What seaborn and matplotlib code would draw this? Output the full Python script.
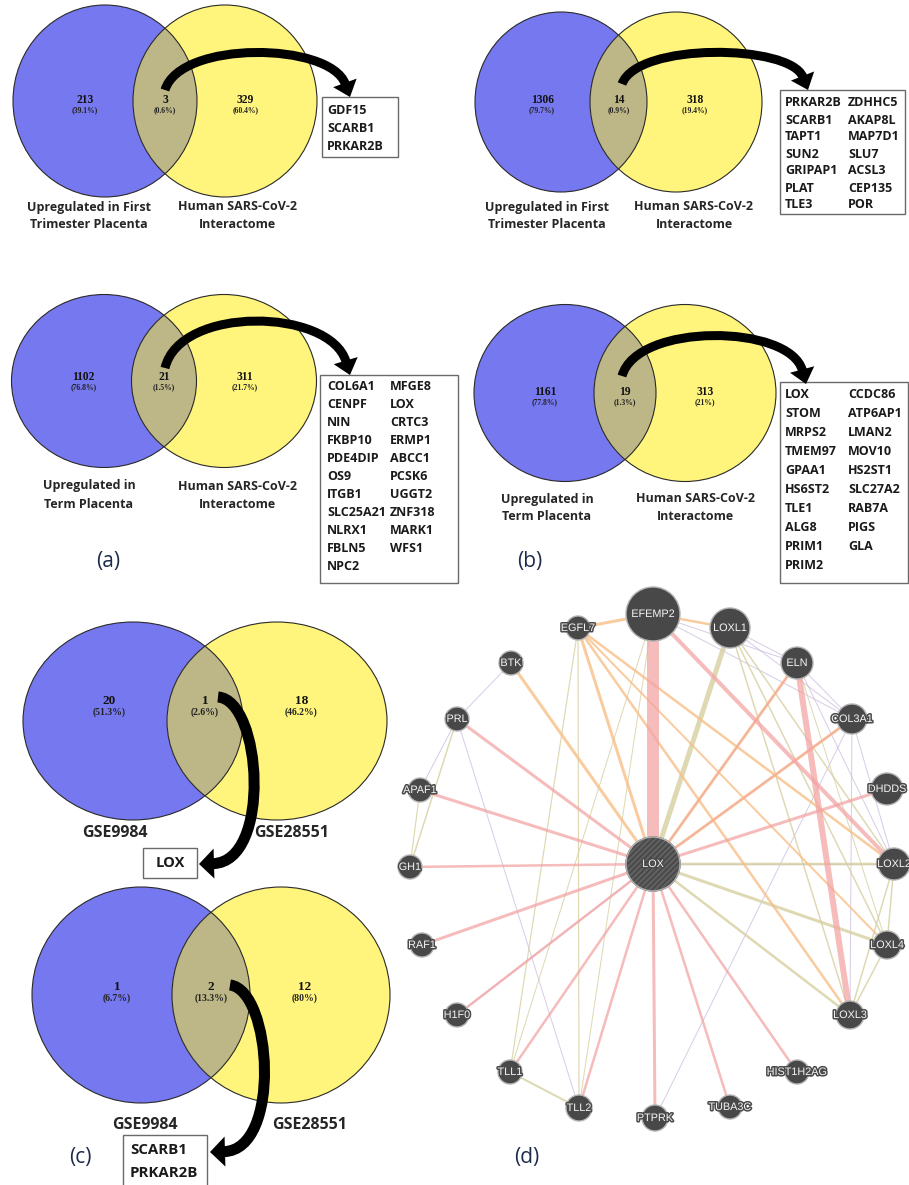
import numpy as np
import pandas as pd
import matplotlib
matplotlib.use("Agg")
import matplotlib.pyplot as plt
import matplotlib.patheffects as pe
from matplotlib.patches import Ellipse, Rectangle, Circle, PathPatch, Polygon
from matplotlib.path import Path
from matplotlib.collections import LineCollection
import seaborn as sns

# ---------------------------------------------------------------- data
# Venn counts: [left only, shared, right only] and matching percentages
first_tri_counts = [213, 3, 329]
first_tri_pcts = [39.1, 0.6, 60.4]
first_tri_genes = ["GDF15", "SCARB1", "PRKAR2B"]

term_counts = [1102, 21, 311]
term_pcts = [76.8, 1.5, 21.7]
term_genes = ["COL6A1", "CENPF", "NIN", "FKBP10", "PDE4DIP", "OS9", "ITGB1",
              "SLC25A21", "NLRX1", "FBLN5", "NPC2",
              "MFGE8", "LOX", "CRTC3", "ERMP1", "ABCC1", "PCSK6", "UGGT2",
              "ZNF318", "MARK1", "WFS1"]

first_tri_b_counts = [1306, 14, 318]
first_tri_b_pcts = [79.7, 0.9, 19.4]
first_tri_b_genes = ["PRKAR2B", "SCARB1", "TAPT1", "SUN2", "GRIPAP1", "PLAT", "TLE3",
                     "ZDHHC5", "AKAP8L", "MAP7D1", "SLU7", "ACSL3", "CEP135", "POR"]

term_b_counts = [1161, 19, 313]
term_b_pcts = [77.8, 1.3, 21]
term_b_genes = ["LOX", "STOM", "MRPS2", "TMEM97", "GPAA1", "HS6ST2", "TLE1", "ALG8",
                "PRIM1", "PRIM2",
                "CCDC86", "ATP6AP1", "LMAN2", "MOV10", "HS2ST1", "SLC27A2", "RAB7A",
                "PIGS", "GLA"]

gse_up_counts = [20, 1, 18]
gse_up_pcts = [51.3, 2.6, 46.2]
gse_up_genes = ["LOX"]

gse_down_counts = [1, 2, 12]
gse_down_pcts = [6.7, 13.3, 80]
gse_down_genes = ["SCARB1", "PRKAR2B"]

set_first = ["Upregulated in First", "Trimester Placenta"]
set_term = ["Upregulated in", "Term Placenta"]
set_interactome = ["Human SARS-CoV-2", "Interactome"]
set_gse = ["GSE9984", "GSE28551"]

# LOX interaction network
net_nodes = ["LOX", "EFEMP2", "LOXL1", "EGFL7", "BTK", "ELN", "PRL", "COL3A1",
             "APAF1", "DHDDS", "GH1", "LOXL2", "RAF1", "LOXL4", "H1F0", "LOXL3",
             "TLL1", "HIST1H2AG", "TLL2", "TUBA3C", "PTPRK"]
net_edges = [
    ("LOX", "EFEMP2", "physical", 12), ("LOX", "PRL", "physical", 3),
    ("LOX", "APAF1", "physical", 3), ("LOX", "GH1", "physical", 2.5),
    ("LOX", "RAF1", "physical", 3), ("LOX", "H1F0", "physical", 2.5),
    ("LOX", "TLL1", "physical", 2.5), ("LOX", "TLL2", "physical", 2.5),
    ("LOX", "PTPRK", "physical", 3), ("LOX", "TUBA3C", "physical", 2.5),
    ("LOX", "HIST1H2AG", "physical", 2.5), ("LOX", "DHDDS", "physical", 3),
    ("LOX", "ELN", "physical", 1.5), ("LOX", "COL3A1", "physical", 1.5),
    ("LOX", "COL3A1", "predicted", 3), ("LOX", "ELN", "predicted", 3),
    ("LOX", "EGFL7", "predicted", 3), ("LOX", "BTK", "predicted", 3),
    ("LOX", "LOXL1", "shared", 5), ("LOX", "LOXL2", "shared", 2.5),
    ("LOX", "LOXL3", "shared", 2.5), ("LOX", "LOXL4", "shared", 3),
    ("LOX", "LOXL2", "coexp", 1.2), ("LOX", "H1F0", "coexp", 1),
    ("EGFL7", "EFEMP2", "predicted", 3), ("EGFL7", "LOXL2", "predicted", 2.5),
    ("EGFL7", "LOXL3", "predicted", 2.5), ("EGFL7", "LOXL4", "predicted", 2),
    ("EGFL7", "TLL1", "shared", 1.2), ("EGFL7", "TLL2", "shared", 1.2),
    ("EFEMP2", "LOXL1", "predicted", 2.5), ("EFEMP2", "LOXL2", "physical", 4),
    ("EFEMP2", "ELN", "coexp", 1), ("EFEMP2", "COL3A1", "coexp", 1),
    ("EFEMP2", "TLL1", "shared", 1), ("EFEMP2", "TLL2", "shared", 1),
    ("LOXL1", "ELN", "coexp", 1), ("LOXL1", "COL3A1", "coexp", 1),
    ("LOXL1", "LOXL2", "shared", 1.5), ("LOXL1", "LOXL3", "shared", 1.5),
    ("LOXL1", "LOXL4", "shared", 1.5), ("ELN", "LOXL3", "physical", 6),
    ("ELN", "COL3A1", "coexp", 1), ("ELN", "LOXL2", "coexp", 1),
    ("ELN", "LOXL4", "shared", 1), ("COL3A1", "LOXL2", "coexp", 1),
    ("COL3A1", "LOXL3", "coexp", 1), ("COL3A1", "PTPRK", "coexp", 1),
    ("LOXL2", "LOXL4", "shared", 1.5), ("LOXL2", "LOXL3", "shared", 1.5),
    ("LOXL4", "LOXL3", "shared", 1.5), ("PRL", "GH1", "shared", 1.5),
    ("PRL", "APAF1", "coexp", 1), ("APAF1", "GH1", "shared", 1.2),
    ("PRL", "BTK", "coexp", 1), ("PRL", "TLL2", "coexp", 1),
    ("TLL1", "TLL2", "shared", 2),
]

# ---------------------------------------------------------------- style
sns.set_theme(style="white")
plt.rcParams["font.family"] = ["Open Sans", "DejaVu Sans"]
plt.rcParams["hatch.linewidth"] = 1.6

BLUE = "#7678ef"
YELLOW = "#fff57c"
OLIVE = "#bdb787"
OUTLINE = "#2a2a2a"
LABEL_NAVY = "#1d2b4c"
EDGE_COLORS = {"physical": "#f3a4a4", "predicted": "#f8bf86",
               "shared": "#d6cfa0", "coexp": "#c8b8dc"}
EDGE_ALPHA = {"physical": 0.75, "predicted": 0.8, "shared": 0.8, "coexp": 0.7}

fig = plt.figure(figsize=(9.09, 11.85), dpi=100)
ax = fig.add_axes([0, 0, 1, 1])
PT = 0.72  # points per pixel at 100 dpi


def fmt_pct(v):
    return f"({v:g}%)"


def draw_venn(cl, cr, cy, w, h, counts, pcts, cnt_fs, pct_fs, dy):
    left = Ellipse((cl, cy), w, h, fc=BLUE, ec="none", zorder=1)
    right = Ellipse((cr, cy), w, h, fc=YELLOW, ec="none", zorder=1)
    ax.add_patch(left)
    ax.add_patch(right)
    lens = Ellipse((cr, cy), w, h, fc=OLIVE, ec="none", zorder=1.1)
    ax.add_patch(lens)
    lens.set_clip_path(left)
    for c in (cl, cr):
        ax.add_patch(Ellipse((c, cy), w, h, fc="none", ec=OUTLINE, lw=0.8, zorder=1.2))
    xs = [cl - 0.11 * w, (cl + cr) / 2, cr + 0.11 * w]
    ty = cy - dy
    for x, n, p in zip(xs, counts, pcts):
        ax.text(x, ty, str(n), ha="center", va="center", fontsize=cnt_fs,
                family="Liberation Serif", weight="bold", color="#111", zorder=6)
        ax.text(x, ty + cnt_fs * 1.2, fmt_pct(p), ha="center", va="center",
                fontsize=pct_fs, family="Liberation Serif", weight="bold",
                color="#222", zorder=6)


def set_label(lines, x, y, fs=9, gap=18):
    for i, s in enumerate(lines):
        ax.text(x, y + i * gap, s, ha="center", va="center", fontsize=fs,
                weight="bold", color="#262626", zorder=6)


def gene_box(x0, y0, x1, y1, genes, ncols, tx, ty, gap, fs=9):
    ax.add_patch(Rectangle((x0, y0), x1 - x0, y1 - y0, fc="white", ec="#6a6a6a",
                           lw=1.0, zorder=4))
    per = int(np.ceil(len(genes) / ncols))
    for i, g in enumerate(genes):
        c, r = divmod(i, per)
        ax.text(tx[c], ty + r * gap, g, ha="left", va="center", fontsize=fs,
                weight="bold", color="#1a1a1a", zorder=6)


def bent_arrow(p0, c1, c2, p1, tail, head_w, head_l):
    p0, c1, c2, p1 = (np.asarray(v, float) for v in (p0, c1, c2, p1))
    d = p1 - c2
    d /= np.linalg.norm(d)
    base = p1 - d * head_l
    n = np.array([-d[1], d[0]])
    body = Path([p0, c1, c2, base + d * 1.0],
                [Path.MOVETO, Path.CURVE4, Path.CURVE4, Path.CURVE4])
    ax.add_patch(PathPatch(body, fc="none", ec="black", lw=tail * PT,
                           capstyle="butt", zorder=7))
    ax.add_patch(Polygon([base + n * head_w / 2, p1, base - n * head_w / 2],
                         closed=True, fc="black", ec="none", zorder=7))


# ---------------------------------------------------------------- panel (a)
draw_venn(105, 225, 101, 184, 192, first_tri_counts, first_tri_pcts, 8.3, 5.5, 1)
set_label(set_first, 89, 207)
set_label(set_interactome, 237, 207)
gene_box(322, 97, 398, 157, first_tri_genes, 1, [327], 110, 18)
bent_arrow((165, 90), (180, 40), (330, 42), (350, 97), 9, 25, 15)

draw_venn(104, 224, 381, 185, 173, term_counts, term_pcts, 8.3, 5.5, 4)
set_label(set_term, 89, 486)
set_label(set_interactome, 237, 486)
gene_box(320, 375, 458, 583, term_genes, 2, [327, 390], 387, 18)
bent_arrow((165, 368), (180, 305), (330, 308), (350, 375), 9, 25, 15)
ax.text(108, 562, "(a)", ha="center", va="center", fontsize=15, color=LABEL_NAVY)

# ---------------------------------------------------------------- panel (b)
draw_venn(561, 676, 102, 172, 180, first_tri_b_counts, first_tri_b_pcts, 8.3, 5.5, 2)
set_label(set_first, 547, 207)
set_label(set_interactome, 694, 207)
gene_box(780, 90, 905, 214, first_tri_b_genes, 2, [785, 848], 103, 17)
bent_arrow((622, 84), (637, 42), (790, 44), (808, 90), 9, 25, 15)

draw_venn(565, 685, 393, 182, 177, term_b_counts, term_b_pcts, 8.3, 5.5, 1)
set_label(set_term, 547, 499)
set_label(set_interactome, 695, 499)
gene_box(780, 382, 908, 583, term_b_genes, 2, [785, 848], 395, 18.9)
bent_arrow((622, 376), (637, 322), (790, 324), (806, 384), 9, 25, 15)
ax.text(530, 562, "(b)", ha="center", va="center", fontsize=15, color=LABEL_NAVY)

# ---------------------------------------------------------------- panel (c)
draw_venn(133, 277, 721, 220, 198, gse_up_counts, gse_up_pcts, 9.5, 7, 20)
set_label(set_gse[:1], 115, 833, fs=11.5)
set_label(set_gse[1:], 292, 833, fs=11.5)
ax.add_patch(Rectangle((143, 848), 54, 30, fc="white", ec="#6a6a6a", lw=1.0, zorder=4))
ax.text(170, 863, gse_up_genes[0], ha="center", va="center", fontsize=10.5,
        weight="bold", color="#1a1a1a", zorder=6)
bent_arrow((218, 697), (262, 700), (272, 862), (199, 864), 11, 30, 15)

draw_venn(141, 281, 995, 218, 216, gse_down_counts, gse_down_pcts, 9.5, 7, 8)
set_label(set_gse[:1], 145, 1125, fs=11.5)
set_label(set_gse[1:], 310, 1125, fs=11.5)
gene_box(123, 1135, 207, 1192, gse_down_genes, 1, [130], 1150, 23, fs=10.8)
bent_arrow((230, 985), (272, 990), (282, 1150), (210, 1152), 11, 30, 15)
ax.text(80, 1157, "(c)", ha="center", va="center", fontsize=15, color=LABEL_NAVY)

# ---------------------------------------------------------------- panel (d)
node_layout = {  # x, y, radius in pixels
    "LOX": (653, 864, 27), "EFEMP2": (653, 614, 27), "LOXL1": (730, 628, 20),
    "EGFL7": (578, 628, 12), "BTK": (511, 663, 12), "ELN": (797, 663, 16),
    "PRL": (457, 719, 12), "COL3A1": (852, 719, 15), "APAF1": (420, 790, 12),
    "DHDDS": (887, 789, 16), "GH1": (410, 867, 12), "LOXL2": (894, 864, 16),
    "RAF1": (422, 945, 12), "LOXL4": (887, 945, 14), "H1F0": (457, 1015, 12),
    "LOXL3": (850, 1015, 14), "TLL1": (510, 1072, 12), "HIST1H2AG": (797, 1072, 12),
    "TLL2": (579, 1108, 13), "TUBA3C": (730, 1107, 12), "PTPRK": (655, 1118, 13),
}

for kind in ["coexp", "shared", "predicted", "physical"]:
    segs, widths = [], []
    for a, b, k, wpx in net_edges:
        if k != kind:
            continue
        segs.append([node_layout[a][:2], node_layout[b][:2]])
        widths.append(wpx * PT)
    ax.add_collection(LineCollection(segs, linewidths=widths, colors=EDGE_COLORS[kind],
                                     alpha=EDGE_ALPHA[kind], capstyle="butt", zorder=2))

node_df = pd.DataFrame({
    "gene": net_nodes,
    "x": [node_layout[g][0] for g in net_nodes],
    "y": [node_layout[g][1] for g in net_nodes],
    "area": [(2 * node_layout[g][2] * PT) ** 2 for g in net_nodes],
})
sns.scatterplot(data=node_df, x="x", y="y", s=node_df["area"].to_numpy(),
                color="#484848", edgecolor="#b4b4b4", linewidth=1.0, ax=ax,
                legend=False, zorder=3)
qx, qy, qr = node_layout["LOX"]
ax.add_patch(Circle((qx, qy), qr, fc="#474747", ec="#616161", lw=1.0,
                    hatch="//////", zorder=4))
ax.add_patch(Circle((qx, qy), qr, fc="none", ec="#b4b4b4", lw=1.0, zorder=4.1))

outline = [pe.withStroke(linewidth=2.2, foreground="#4a4a4a")]
for g in net_nodes:
    x, y, r = node_layout[g]
    ax.text(x, y, g, ha="center", va="center", fontsize=7.8, family="Liberation Sans",
            color="#f4f4f4", path_effects=outline, zorder=5)
ax.text(527, 1158, "(d)", ha="center", va="center", fontsize=15, color=LABEL_NAVY)

ax.set_xlim(0, 909)
ax.set_ylim(1185, 0)
ax.set_xlabel("")
ax.set_ylabel("")
ax.axis("off")
fig.savefig("out.png", dpi=100, facecolor="white")
